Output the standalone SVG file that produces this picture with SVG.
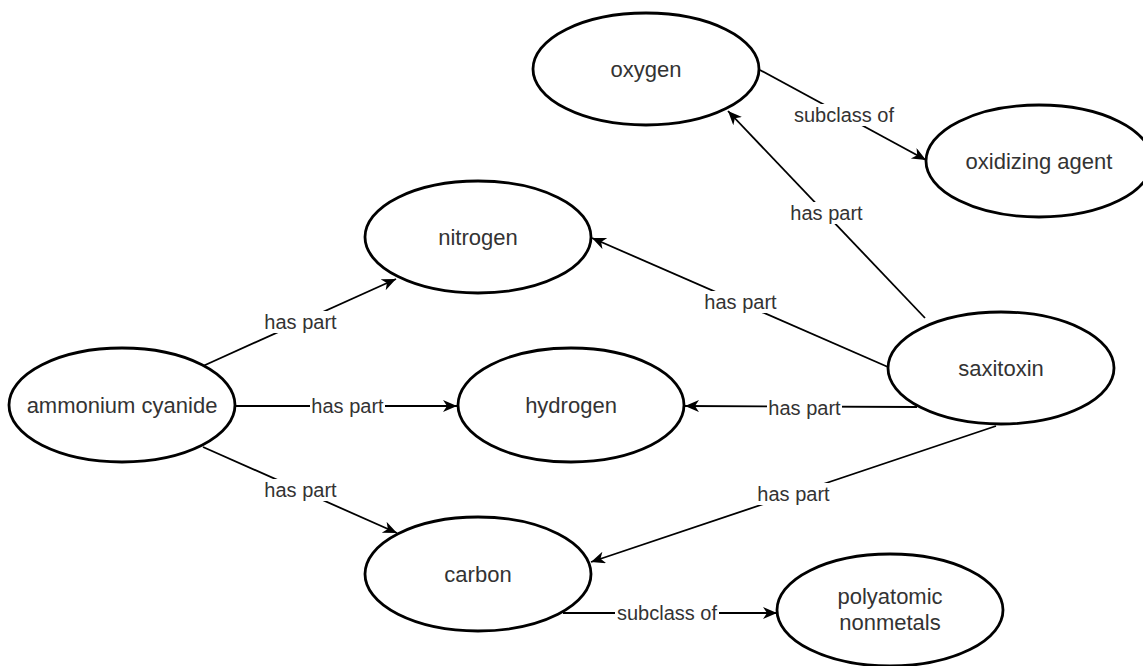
<svg xmlns="http://www.w3.org/2000/svg" width="1143" height="666" viewBox="0 0 1143 666">
<defs>
<marker id="arr" markerUnits="userSpaceOnUse" markerWidth="16" markerHeight="14" refX="14" refY="6" orient="auto">
<path d="M0,0 L14,6 L0,12 L4,6 Z" fill="#000"/>
</marker>
<style>
.node ellipse{fill:#fff;stroke:#000;stroke-width:2.8}
.node text{font-family:"Liberation Sans",Arial,sans-serif;font-size:22px;fill:#333;text-anchor:middle}
.edge line,.edge path{stroke:#000;stroke-width:1.8;fill:none}
.lbl{font-family:"Liberation Sans",Arial,sans-serif;font-size:20px;fill:#333;text-anchor:middle}
.lblbg{fill:#fff}
</style>
</defs>
<rect width="1143" height="666" fill="#fff"/>
<g id="connectors">
<g class="edge"><line x1="203" y1="366" x2="396" y2="279" marker-end="url(#arr)"/></g>
<g class="edge"><line x1="236" y1="406" x2="457" y2="406" marker-end="url(#arr)"/></g>
<g class="edge"><line x1="203" y1="447" x2="397" y2="533" marker-end="url(#arr)"/></g>
<g class="edge"><line x1="925" y1="318" x2="728" y2="111" marker-end="url(#arr)"/></g>
<g class="edge"><line x1="888" y1="367" x2="592" y2="238" marker-end="url(#arr)"/></g>
<g class="edge"><line x1="917" y1="407" x2="685" y2="406" marker-end="url(#arr)"/></g>
<g class="edge"><line x1="996" y1="426" x2="591" y2="562" marker-end="url(#arr)"/></g>
<g class="edge"><line x1="760" y1="70" x2="926" y2="160" marker-end="url(#arr)"/></g>
<g class="edge"><line x1="563" y1="613" x2="777" y2="613" marker-end="url(#arr)"/></g>
<g id="labels">
<rect class="lblbg" x="263" y="311" width="75" height="22"/><text class="lbl" x="300.5" y="329">has part</text>
<rect class="lblbg" x="310" y="395" width="75" height="22"/><text class="lbl" x="347.5" y="413">has part</text>
<rect class="lblbg" x="263" y="479" width="75" height="22"/><text class="lbl" x="300.5" y="497">has part</text>
<rect class="lblbg" x="789" y="202" width="75" height="22"/><text class="lbl" x="826.5" y="220">has part</text>
<rect class="lblbg" x="703" y="291" width="75" height="22"/><text class="lbl" x="740.5" y="309">has part</text>
<rect class="lblbg" x="767" y="397" width="75" height="22"/><text class="lbl" x="804.5" y="415">has part</text>
<rect class="lblbg" x="756" y="483" width="75" height="22"/><text class="lbl" x="793.5" y="501">has part</text>
<rect class="lblbg" x="792" y="104" width="104" height="22"/><text class="lbl" x="844" y="122">subclass of</text>
<rect class="lblbg" x="615" y="602" width="104" height="22"/><text class="lbl" x="667" y="620">subclass of</text>
</g>
</g>
<g id="oxygen" class="node"><ellipse cx="646" cy="69" rx="113" ry="56"/><text x="646" y="77">oxygen</text></g>
<g id="oxidizing-agent" class="node"><ellipse cx="1039" cy="161" rx="113" ry="56"/><text x="1039" y="169">oxidizing agent</text></g>
<g id="nitrogen" class="node"><ellipse cx="478" cy="237" rx="113" ry="56"/><text x="478" y="245">nitrogen</text></g>
<g id="ammonium-cyanide" class="node"><ellipse cx="122" cy="405" rx="113" ry="57"/><text x="122" y="413">ammonium cyanide</text></g>
<g id="hydrogen" class="node"><ellipse cx="571" cy="405" rx="113" ry="57"/><text x="571" y="413">hydrogen</text></g>
<g id="saxitoxin" class="node"><ellipse cx="1001" cy="368" rx="113" ry="56"/><text x="1001" y="376">saxitoxin</text></g>
<g id="carbon" class="node"><ellipse cx="478" cy="574" rx="113" ry="57"/><text x="478" y="582">carbon</text></g>
<g id="polyatomic-nonmetals" class="node"><ellipse cx="890" cy="610" rx="113" ry="56"/><text x="890" y="604">polyatomic</text><text x="890" y="630">nonmetals</text></g>
</svg>
